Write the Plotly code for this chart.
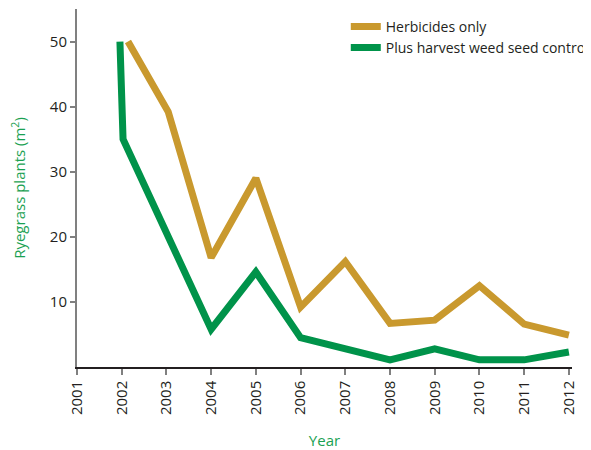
import plotly.graph_objects as go

# Herbicides only (gold)
herb_x = [2002.14, 2003.04, 2004.0, 2005.0, 2006.0, 2007.0, 2008.0, 2009.0, 2010.0, 2011.0, 2012.0]
herb_y = [50, 39.2, 16.8, 29.0, 9.2, 16.2, 6.7, 7.2, 12.5, 6.6, 4.9]

# Plus harvest weed seed control (green)
hwsc_x = [2001.96, 2002.03, 2004.0, 2005.0, 2006.0, 2008.0, 2009.0, 2010.0, 2011.0, 2012.0]
hwsc_y = [50, 35.0, 5.8, 14.6, 4.5, 1.1, 2.8, 1.1, 1.1, 2.3]

years = list(range(2001, 2013))
year_labels = [str(y) for y in years]
y_ticks = [10, 20, 30, 40, 50]

GOLD = "#C9992E"
GREEN = "#00934A"
TITLE_GREEN = "#1AA152"
FONT = "Open Sans, Noto Sans, sans-serif"

fig = go.Figure()
fig.add_trace(go.Scatter(x=herb_x, y=herb_y, mode="lines", name="Herbicides only",
                         legendgroup="a", line=dict(color=GOLD, width=7)))
fig.add_trace(go.Scatter(x=hwsc_x, y=hwsc_y, mode="lines", name="Plus harvest weed seed control",
                         legendgroup="b", line=dict(color=GREEN, width=7)))

# page body has an 8px margin, so the figure is sized to fit the 591x450 window
fig.update_layout(
    width=583, height=442,
    margin=dict(l=69, r=19, t=1, b=83, autoexpand=False),
    plot_bgcolor="white", paper_bgcolor="white",
    font=dict(family=FONT, size=15, color="#231F20"),
    showlegend=True,
    legend=dict(x=0.543, y=0.995, xanchor="left", yanchor="top",
                bgcolor="rgba(0,0,0,0)", font=dict(size=14, color="#231F20"),
                traceorder="grouped", tracegroupgap=0, itemwidth=30),
    xaxis=dict(range=[2001, 2012.07], tickvals=years, ticktext=year_labels,
               tickangle=-90, showgrid=False, zeroline=False, automargin=False,
               showline=True, linecolor="#231F20", linewidth=1.5,
               ticks="outside", ticklen=6, tickcolor="#808080", tickwidth=2,
               tickfont=dict(size=15),
               title=dict(text="Year", font=dict(color=TITLE_GREEN, size=15), standoff=22)),
    yaxis=dict(range=[0, 55], tickvals=y_ticks, showgrid=False, zeroline=False, automargin=False,
               showline=True, linecolor="#808080", linewidth=2,
               ticks="outside", ticklen=5, tickcolor="#808080", tickwidth=2,
               tickfont=dict(size=15),
               title=dict(text="Ryegrass plants (m<sup>2</sup>)", font=dict(color=TITLE_GREEN, size=15), standoff=29)),
)

fig.write_html("out.html")
